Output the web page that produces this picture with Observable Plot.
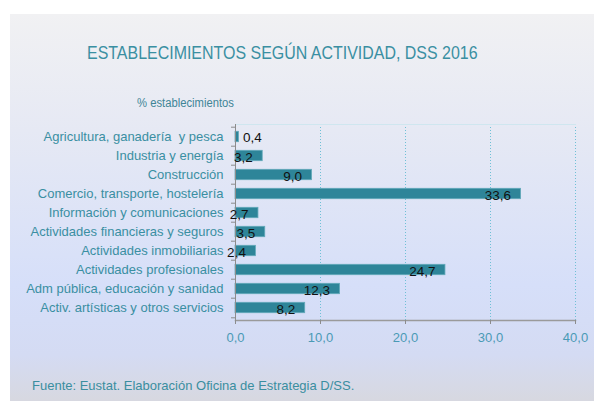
<!DOCTYPE html>
<html>
<head>
<meta charset="utf-8">
<script src="https://cdn.jsdelivr.net/npm/d3@7"></script>
<script src="https://cdn.jsdelivr.net/npm/@observablehq/plot@0.6"></script>
<style>
  html, body { margin: 0; padding: 0; background: #ffffff; }
  body { width: 594px; height: 401px; position: relative; overflow: hidden; font-family: "Liberation Sans", Arial, sans-serif; }
  #panel { position: absolute; left: 10px; top: 14px; width: 584px; height: 387px;
    background: linear-gradient(to bottom, #f1f1f3 0%, #e6e9f4 30%, #d6dff9 70%, #d4dbf3 88%, #d7d8e0 100%); }
  #title { position: absolute; top: 42px; left: 87px; font-size: 19px; color: #3a8fa2; white-space: nowrap;
    transform-origin: 0 0; transform: scaleX(0.84); }
  #sub { position: absolute; top: 96px; left: 137px; font-size: 12.5px; color: #3f8597; white-space: nowrap;
    transform-origin: 0 0; transform: scaleX(0.9); }
  #cap { position: absolute; top: 378px; left: 32px; font-size: 13px; color: #3a8ea0; white-space: nowrap; }
  #chart { position: absolute; left: 0; top: 114px; }
</style>
</head>
<body>
<div id="panel"></div>
<div id="title">ESTABLECIMIENTOS SEGÚN ACTIVIDAD, DSS 2016</div>
<div id="sub">% establecimientos</div>
<div id="chart"></div>
<div id="cap">Fuente: Eustat. Elaboración Oficina de Estrategia D/SS.</div>
<script>
const categories = [
  "Agricultura, ganadería  y pesca",
  "Industria y energía",
  "Construcción",
  "Comercio, transporte, hostelería",
  "Información y comunicaciones",
  "Actividades financieras y seguros",
  "Actividades inmobiliarias",
  "Actividades profesionales",
  "Adm pública, educación y sanidad",
  "Activ. artísticas y otros servicios"
];
const values = [0.4, 3.2, 9.0, 33.6, 2.7, 3.5, 2.4, 24.7, 12.3, 8.2];
const xTicks = [0, 10, 20, 30, 40];

const data = categories.map((c, i) => ({cat: c, v: values[i]}));
const fmt = v => d3.format(".1f")(v).replace(".", ",");
const teal = "#3a8fa2";
const H = 240, mTop = 10, mBottom = 34;
const step = (H - mTop - mBottom) / categories.length;

const chart = Plot.plot({
  width: 594,
  height: H,
  marginLeft: 235,
  marginRight: 19,
  marginTop: mTop,
  marginBottom: mBottom,
  style: {background: "transparent", fontFamily: "Liberation Sans, Arial, sans-serif"},
  x: {domain: [0, 40]},
  y: {domain: categories, padding: 0},
  marks: [
    Plot.gridX(xTicks.slice(1), {stroke: "#6fc0d6", strokeOpacity: 1, strokeDasharray: "1,2"}),
    Plot.frame({anchor: "top", stroke: "#cfe6ef"}),
    Plot.barX(data, {x: "v", y: "cat", fill: "#2e8599", stroke: "#62a9b9", strokeWidth: 0.8, insetTop: 4.3, insetBottom: 4.3}),
    Plot.frame({anchor: "left", stroke: "#8c8c8c"}),
    Plot.frame({anchor: "bottom", stroke: "#9a9a9a", strokeWidth: 1.5}),
    Plot.ruleY(categories, {y: d => d, x1: -0.47, x2: 0, stroke: "#8c8c8c", dy: -step / 2}),
    Plot.ruleY(categories.slice(-1), {y: d => d, x1: -0.47, x2: 0, stroke: "#8c8c8c", dy: step / 2}),
    Plot.axisY({tickSize: 0, tickPadding: 12, fill: teal, fontSize: 13, label: null}),
    Plot.axisX(xTicks, {tickSize: 4, stroke: "#8c8c8c", tickPadding: 8, fill: "#4a9ab5", fontSize: 13, tickFormat: fmt, label: null}),
    Plot.text(data.filter(d => d.v >= 1), {x: "v", y: "cat", text: d => fmt(d.v), textAnchor: "end", dx: -10, dy: 1.5, fill: "#111", fontSize: 13.5}),
    Plot.text(data.filter(d => d.v < 1), {x: "v", y: "cat", text: d => fmt(d.v), textAnchor: "start", dx: 4, dy: 1, fill: "#111", fontSize: 13.5})
  ]
});
document.getElementById("chart").appendChild(chart);
</script>
</body>
</html>
